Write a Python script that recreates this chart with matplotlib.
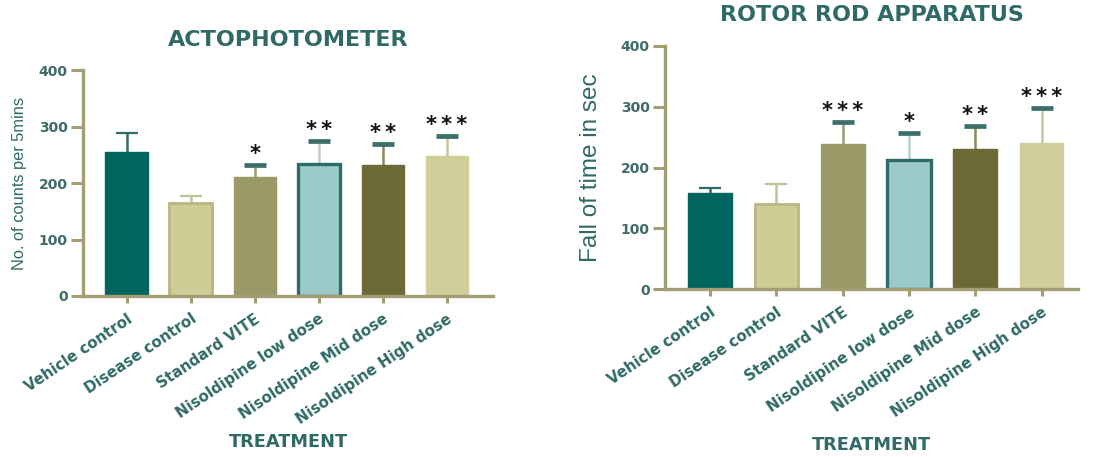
import matplotlib
matplotlib.use("Agg")
import matplotlib.pyplot as plt

# Treatment groups
groups = ["Vehicle control", "Disease control", "Standard VITE",
          "Nisoldipine low dose", "Nisoldipine Mid dose", "Nisoldipine High dose"]

# Actophotometer: counts per 5 min (mean, upper SD) and significance marks
acto_mean = [255, 164, 211, 234, 232, 247]
acto_err = [33, 13, 21, 41, 37, 36]
acto_sig = ["", "", "*", "**", "**", "***"]

# Rotarod: fall-off time in seconds
rotarod_mean = [158, 141, 239, 212, 231, 240]
rotarod_err = [9, 32, 36, 45, 38, 58]
rotarod_sig = ["", "", "***", "*", "**", "***"]

yticks = [0, 100, 200, 300, 400]

# Styling
fills = ["#00655f", "#cfcd96", "#9a9a68", "#9ccaca", "#6b6a36", "#d0ce9a"]
edges = ["#00655f", "#b8b682", "#9a9a68", "#2f6b6b", "#6b6a36", "#d0ce9a"]
edge_w = [1.0, 2.0, 1.0, 2.4, 1.0, 1.0]
whisker = ["#2f6b6b", "#c4c294", "#9a9a70", "#b9cfcc", "#8a8a60", "#c8c69a"]
TEAL = "#2f6a67"
TICKNUM = "#3f6b69"
AXIS = "#a19f72"
SIGCAP = "#3b6f6a"
BOLD = "DejaVu Sans"
REG = "Liberation Sans"

fig = plt.figure(figsize=(11.08, 4.57), dpi=100)
fig.patch.set_facecolor("white")


def draw(rect, means, errs, sig, title, title_y, ylabel, ylabel_size,
         ylabel_x, xlabel_y, xmax):
    ax = fig.add_axes(rect)
    x = list(range(len(groups)))
    ax.bar(x, means, width=0.66, color=fills, edgecolor=edges,
           linewidth=edge_w, zorder=2)
    for i, (m, e) in enumerate(zip(means, errs)):
        line, caps, bars = ax.errorbar(
            [i], [m], yerr=[[0], [e]], fmt="none", ecolor=whisker[i],
            elinewidth=1.8, capsize=8.2, capthick=1.6, zorder=1)
        # only the upper cap is shown
        caps[0].set_visible(False)
        top = caps[1]
        if sig[i]:
            top.set_markeredgecolor(SIGCAP)
            top.set_markeredgewidth(3.4)
            top.set_zorder(3)
            ax.annotate("\u2009".join(sig[i]), (i, m + e), xytext=(0, 0.5),
                        textcoords="offset points", ha="center", va="bottom",
                        fontsize=15, fontweight="bold", family=BOLD,
                        color="#111111")
        else:
            top.set_markeredgecolor(whisker[i])
    ax.set_xlim(-0.68, xmax)
    ax.set_ylim(0, 400)
    ax.set_yticks(yticks)
    ax.set_xticks(x)
    ax.set_xticklabels(groups, rotation=34, ha="right", va="top",
                       rotation_mode="anchor", fontsize=10.8,
                       fontweight="bold", family=BOLD, color=TEAL)
    for lab in ax.get_yticklabels():
        lab.set_fontsize(10)
        lab.set_fontweight("bold")
        lab.set_family(BOLD)
        lab.set_color(TICKNUM)
    for s in ("top", "right"):
        ax.spines[s].set_visible(False)
    for s in ("left", "bottom"):
        ax.spines[s].set_color(AXIS)
        ax.spines[s].set_linewidth(2.4)
    ax.tick_params(axis="y", length=9, width=2.2, color=AXIS, pad=2)
    ax.tick_params(axis="x", length=5, width=2.2, color=AXIS, pad=6)
    ax.set_title(title, fontsize=16, fontweight="bold", family=BOLD,
                 color=TEAL, y=title_y, pad=0)
    ax.set_ylabel(ylabel, fontsize=ylabel_size, family=REG, color=TEAL)
    ax.yaxis.set_label_coords(ylabel_x, 0.5)
    ax.text(0.5, xlabel_y, "TREATMENT", transform=ax.transAxes,
            ha="center", va="center", fontsize=12.8, fontweight="bold",
            family=BOLD, color=TEAL)
    return ax


draw([0.0749, 0.3523, 0.370, 0.4945], acto_mean, acto_err, acto_sig,
     "ACTOPHOTOMETER", 1.106, "No. of counts per 5mins", 11.8,
     -0.137, -0.646, 5.72)
draw([0.6002, 0.367, 0.3727, 0.5324], rotarod_mean, rotarod_err, rotarod_sig,
     "ROTOR ROD APPARATUS", 1.104, "Fall of time in sec", 17.5,
     -0.152, -0.64, 5.55)

fig.savefig("out.png", dpi=100, facecolor="white")
